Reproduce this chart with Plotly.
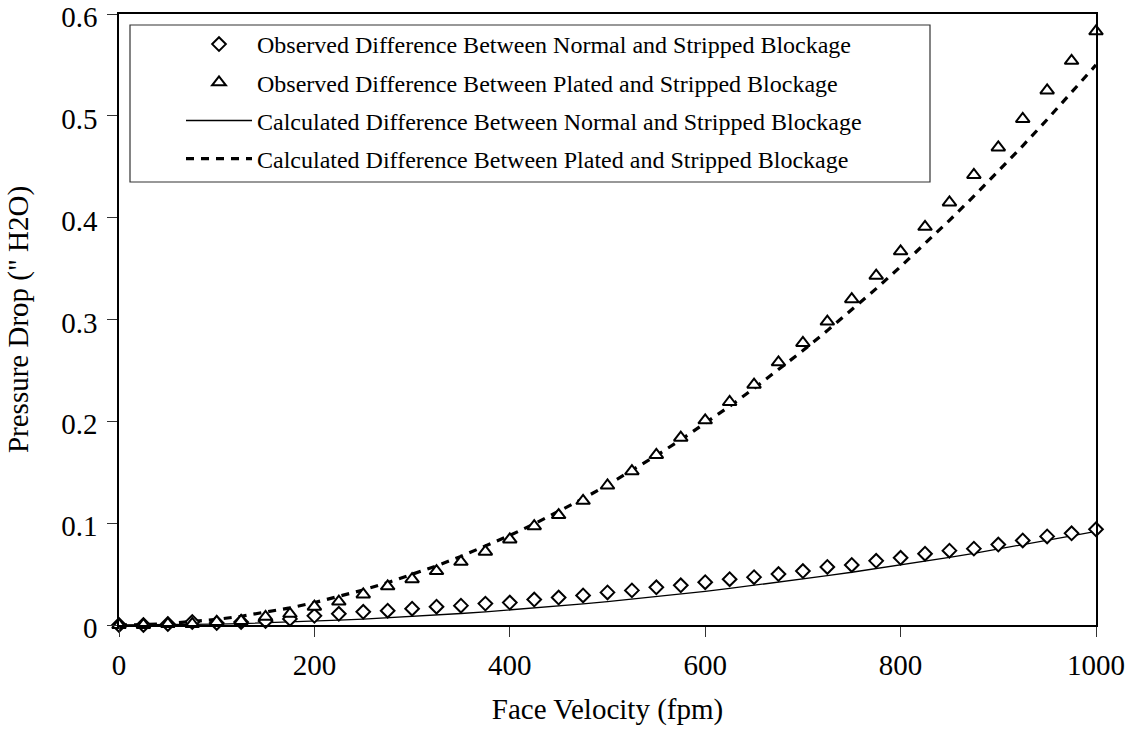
import plotly.graph_objects as go

# Face velocity (fpm)
velocity = [0, 25, 50, 75, 100, 125, 150, 175, 200, 225, 250, 275, 300, 325, 350,
            375, 400, 425, 450, 475, 500, 525, 550, 575, 600, 625, 650, 675, 700,
            725, 750, 775, 800, 825, 850, 875, 900, 925, 950, 975, 1000]

# Observed pressure-drop differences (" H2O)
obs_normal = [0.000, 0.000, 0.001, 0.003, 0.002, 0.003, 0.004, 0.006, 0.009, 0.011,
              0.013, 0.014, 0.016, 0.018, 0.019, 0.021, 0.022, 0.025, 0.027, 0.029,
              0.032, 0.034, 0.037, 0.039, 0.042, 0.045, 0.047, 0.050, 0.053, 0.057,
              0.059, 0.063, 0.066, 0.070, 0.073, 0.075, 0.079, 0.083, 0.087, 0.090,
              0.094]
obs_plated = [0.000, 0.000, 0.001, 0.001, 0.003, 0.004, 0.008, 0.011, 0.018, 0.023,
              0.030, 0.038, 0.045, 0.053, 0.062, 0.072, 0.084, 0.097, 0.108, 0.122,
              0.137, 0.151, 0.167, 0.184, 0.201, 0.219, 0.236, 0.258, 0.277, 0.298,
              0.320, 0.343, 0.367, 0.391, 0.415, 0.442, 0.469, 0.497, 0.525, 0.554,
              0.583]

# Calculated pressure-drop differences (" H2O)
calc_normal = [0.0000, 0.0001, 0.0002, 0.0005, 0.0009, 0.0014, 0.0021, 0.0028, 0.0037,
               0.0047, 0.0058, 0.0070, 0.0083, 0.0097, 0.0113, 0.0129, 0.0147, 0.0166,
               0.0186, 0.0208, 0.0230, 0.0254, 0.0278, 0.0304, 0.0331, 0.0359, 0.0389,
               0.0419, 0.0451, 0.0484, 0.0518, 0.0553, 0.0589, 0.0626, 0.0665, 0.0704,
               0.0745, 0.0787, 0.0830, 0.0875, 0.0920]
calc_plated = [0.0000, 0.0003, 0.0014, 0.0031, 0.0055, 0.0086, 0.0124, 0.0168, 0.0220,
               0.0278, 0.0344, 0.0416, 0.0495, 0.0581, 0.0674, 0.0773, 0.0880, 0.0993,
               0.1114, 0.1241, 0.1375, 0.1516, 0.1664, 0.1818, 0.1980, 0.2148, 0.2324,
               0.2506, 0.2695, 0.2891, 0.3094, 0.3303, 0.3520, 0.3743, 0.3974, 0.4211,
               0.4455, 0.4706, 0.4964, 0.5228, 0.5500]

x_ticks = [0, 200, 400, 600, 800, 1000]
y_ticks = [0, 0.1, 0.2, 0.3, 0.4, 0.5, 0.6]
y_tick_text = ["0", "0.1", "0.2", "0.3", "0.4", "0.5", "0.6"]

SERIF = "Liberation Serif, Times New Roman, serif"

fig = go.Figure()

fig.add_trace(go.Scatter(
    x=velocity, y=calc_normal, mode="lines",
    name="Calculated Difference Between Normal and Stripped Blockage",
    line=dict(color="black", width=1.3), legendrank=3, legendgroup="c",
))
fig.add_trace(go.Scatter(
    x=velocity, y=calc_plated, mode="lines",
    name="Calculated Difference Between Plated and Stripped Blockage",
    line=dict(color="black", width=3.2, dash="8px,7px"), legendrank=4, legendgroup="d",
))
fig.add_trace(go.Scatter(
    x=velocity, y=obs_normal, mode="markers",
    name="Observed Difference Between Normal and Stripped Blockage",
    marker=dict(symbol="diamond", size=10.5, color="white",
                line=dict(color="black", width=2)),
    cliponaxis=False, legendrank=1, legendgroup="a",
))
fig.add_trace(go.Scatter(
    x=velocity, y=obs_plated, mode="markers",
    name="Observed Difference Between Plated and Stripped Blockage",
    marker=dict(symbol="triangle-up", size=12, color="white",
                line=dict(color="black", width=2)),
    cliponaxis=False, legendrank=2, legendgroup="b",
))

# frame around the legend
fig.add_shape(type="rect", xref="paper", yref="paper",
              x0=(130 - 119) / 977, x1=(930 - 119) / 977,
              y0=1 - (182 - 14) / 611, y1=1 - (25 - 14) / 611,
              line=dict(color="#333333", width=1.2), fillcolor="rgba(0,0,0,0)")

axis_common = dict(
    showgrid=False, zeroline=False, showline=True, linecolor="black", linewidth=1.5,
    mirror=True, ticks="outside", ticklen=10, tickwidth=1.2, tickcolor="#333333",
    tickfont=dict(family=SERIF, size=29, color="black"),
    ticklabeloverflow="allow", automargin=False,
)

fig.update_layout(
    width=1138, height=735,
    margin=dict(l=119, r=42, t=14, b=110),
    paper_bgcolor="white", plot_bgcolor="white",
    font=dict(family=SERIF, color="black"),
    showlegend=True,
    legend=dict(
        x=(181 - 119) / 977, y=1 - (22 - 14) / 611, xanchor="left", yanchor="top",
        bgcolor="rgba(0,0,0,0)", borderwidth=0,
        font=dict(family=SERIF, size=24, color="black"),
        itemwidth=66, tracegroupgap=4,
        traceorder="grouped",
    ),
    xaxis=dict(range=[0, 1000], tickvals=x_ticks, ticklabelstandoff=3,
               title=dict(text="Face Velocity (fpm)", standoff=19,
                          font=dict(family=SERIF, size=29, color="black")),
               **axis_common),
    yaxis=dict(range=[0, 0.60001], tickvals=y_ticks, ticktext=y_tick_text,
               ticklabelstandoff=4, ticklabelshift=3,
               title=dict(text="Pressure Drop (\" H2O)", standoff=24,
                          font=dict(family=SERIF, size=29, color="black")),
               **axis_common),
)

fig.write_html("out.html")
